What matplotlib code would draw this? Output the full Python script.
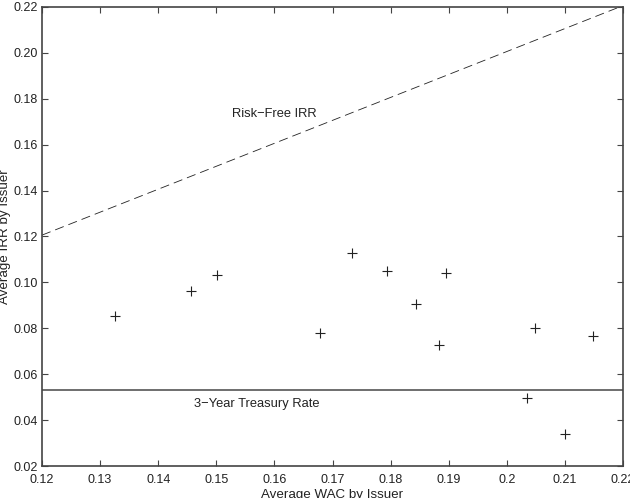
"""
Average IRR vs average WAC by issuer
"""
import matplotlib
matplotlib.use("Agg")
import matplotlib.pyplot as plt

plt.rcParams['font.family'] = ['Liberation Sans', 'DejaVu Sans']

# average WAC and IRR per issuer
wac = [0.1326, 0.1456, 0.1501, 0.1679, 0.1734, 0.1794, 0.1844,
       0.1884, 0.1896, 0.2034, 0.2049, 0.2100, 0.2149]
irr = [0.0854, 0.0961, 0.1031, 0.0778, 0.1129, 0.1048, 0.0906,
       0.0726, 0.1042, 0.0498, 0.0803, 0.0338, 0.0768]

treasury_rate = 0.0531
riskfree_x = [0.12, 0.22]
riskfree_y = [0.1206, 0.2206]

x_ticks = [0.12, 0.13, 0.14, 0.15, 0.16, 0.17, 0.18, 0.19, 0.2, 0.21, 0.22]
x_ticklabels = ['0.12', '0.13', '0.14', '0.15', '0.16', '0.17', '0.18',
                '0.19', '0.2', '0.21', '0.22']
y_ticks = [0.02, 0.04, 0.06, 0.08, 0.10, 0.12, 0.14, 0.16, 0.18, 0.20, 0.22]
y_ticklabels = ['%.2f' % v for v in y_ticks]

fig = plt.figure(figsize=(6.3, 4.98), dpi=100)
ax = fig.add_axes([42 / 630, 1 - 466 / 498, 581 / 630, 459 / 498])

ax.plot(wac, irr, '+', color='#222222', markersize=7.5, markeredgewidth=0.8)
ax.axhline(treasury_rate, color='#555555', linewidth=1.2)
ax.plot(riskfree_x, riskfree_y, color='#222222', linewidth=0.6,
        dashes=(11, 6))

ax.text(0.1527, 0.1734, 'Risk\u2212Free IRR', fontsize=9.3, va='center',
        color='#222222')
ax.text(0.1462, 0.0470, '3\u2212Year Treasury Rate', fontsize=9.3,
        va='center', color='#222222')

ax.set_xlim(0.12, 0.22)
ax.set_ylim(0.02, 0.22)
ax.set_xticks(x_ticks)
ax.set_xticklabels(x_ticklabels)
ax.set_yticks(y_ticks)
ax.set_yticklabels(y_ticklabels)
ax.tick_params(direction='in', top=True, right=True, length=4,
               labelsize=9, width=0.8, color='#444444', labelcolor='#222222',
               pad=3)
ax.tick_params(axis='x', pad=6)
for s in ax.spines.values():
    s.set_color('#444444')
    s.set_linewidth(1.2)

ax.set_xlabel('Average WAC by Issuer', fontsize=9.6, color='#222222')
ax.set_ylabel('Average IRR by Issuer', fontsize=9.6, color='#222222')
ax.xaxis.set_label_coords(0.5, -0.05)
ax.yaxis.set_label_coords(-0.0525, 0.5)

fig.savefig('out.png', dpi=100)
